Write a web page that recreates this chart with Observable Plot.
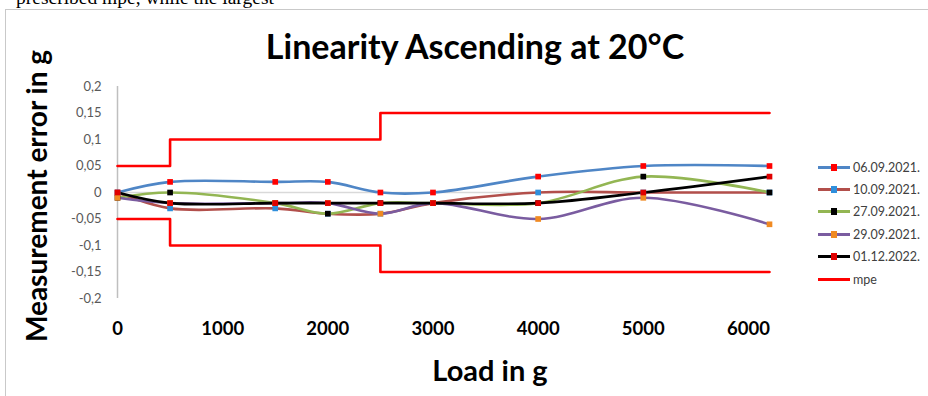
<!DOCTYPE html>
<html><head><meta charset="utf-8">
<script src="https://cdn.jsdelivr.net/npm/d3@7"></script>
<script src="https://cdn.jsdelivr.net/npm/@observablehq/plot@0.6"></script>
<style>
body{margin:0;background:#fff;}
#wrap{position:relative;width:928px;height:396px;overflow:hidden;font-family:Lato,"Open Sans",sans-serif;}
#wrap svg{position:absolute;left:0;top:0;}
.ov{position:absolute;white-space:nowrap;}
#toptext{left:16px;top:-13px;font-family:"Liberation Serif","Times New Roman",serif;font-size:19.5px;color:#000;}
#border{left:5px;top:9px;width:940px;height:400px;border:1.5px solid #c9c9c9;}
#title{left:475px;top:45px;transform:translate(-50%,-50%);font-weight:bold;font-size:34px;color:#000;}
#ytitle{left:36px;top:196px;transform:translate(-50%,-50%) rotate(-90deg);font-weight:bold;font-size:28px;color:#000;}
#xtitle{left:490px;top:369px;transform:translate(-50%,-50%);font-weight:bold;font-size:29px;color:#000;}
#legend{left:818px;top:156px;font-size:12.5px;color:#404040;}
.li{display:flex;align-items:center;height:22.4px;}
.sw{position:relative;width:32px;height:3px;margin-right:3px;}
.mk{position:absolute;left:13px;top:-2px;width:6px;height:7px;}
</style></head>
<body>
<div id="wrap">
  <div class="ov" id="toptext">prescribed mpe, while the largest</div>
  <div class="ov" id="border"></div>
  <div class="ov" id="title">Linearity Ascending at 20°C</div>
  <div class="ov" id="ytitle">Measurement error in g</div>
  <div class="ov" id="xtitle">Load in g</div>
  <div class="ov" id="legend"></div>
</div>
<script>
const loads = [0, 500, 1500, 2000, 2500, 3000, 4000, 5000, 6200];
const seriesNames = ["06.09.2021.", "10.09.2021.", "27.09.2021.", "29.09.2021.", "01.12.2022."];
const s0609 = [0, 0.02, 0.02, 0.02, 0, 0, 0.03, 0.05, 0.05];
const s1009 = [0, -0.03, -0.03, -0.04, -0.04, -0.02, 0, 0, 0];
const s2709 = [-0.01, 0, -0.02, -0.04, -0.02, -0.02, -0.02, 0.03, 0];
const s2909 = [-0.01, -0.02, -0.02, -0.02, -0.04, -0.02, -0.05, -0.01, -0.06];
const s0112 = [0, -0.02, -0.02, -0.02, -0.02, -0.02, -0.02, 0, 0.03];
const mpeLoads = [0, 500, 2500, 6200];
const mpeUpper = [0.05, 0.1, 0.15, 0.15];
const mpeLower = [-0.05, -0.1, -0.15, -0.15];
const yTicks = [-0.2, -0.15, -0.1, -0.05, 0, 0.05, 0.1, 0.15, 0.2];
const xTicks = [0, 1000, 2000, 3000, 4000, 5000, 6000];

const lineColors = ["#4f86c6", "#b24f4b", "#93b653", "#7a5ca0", "#000000"];
const markColors = ["#ff0000", "#2f8fdc", "#000000", "#f08a22", "#e00000"];
const allSeries = [s0609, s1009, s2709, s2909, s0112];

const data = [];
allSeries.forEach((vals, i) => vals.forEach((v, j) => data.push({series: seriesNames[i], load: loads[j], err: v, idx: i})));
const mpeData = [];
mpeLoads.forEach((l, j) => { mpeData.push({b: "u", load: l, err: mpeUpper[j]}); mpeData.push({b: "l", load: l, err: mpeLower[j]}); });

const fmt = d => d === 0 ? "0" : String(d).replace(".", ",");

const chart = Plot.plot({
  width: 928, height: 396,
  marginLeft: 117, marginRight: 159, marginTop: 86, marginBottom: 98,
  style: {background: "transparent", overflow: "visible"},
  x: {domain: [0, 6200]},
  y: {domain: [-0.2, 0.2]},
  marks: [
    Plot.ruleY([0], {stroke: "#d9d9d9", strokeWidth: 1.5}),
    Plot.ruleX([0], {stroke: "#bfbfbf", strokeWidth: 1.5}),
    Plot.line(mpeData, {x: "load", y: "err", z: "b", curve: "step-after", stroke: "#ff0000", strokeWidth: 2.6}),
    ...allSeries.map((vals, i) => Plot.line(data.filter(d => d.idx === i), {x: "load", y: "err", curve: "catmull-rom", stroke: lineColors[i], strokeWidth: 2.6})),
    ...allSeries.map((vals, i) => Plot.dot(data.filter(d => d.idx === i), {x: "load", y: "err", symbol: "square", r: 3.2, fill: markColors[i], stroke: "none"})),
    Plot.axisY(yTicks, {tickSize: 0, tickPadding: 16, tickFormat: fmt, fontSize: 13, fill: "#595959", label: null, fontFamily: "Lato"}),
    Plot.axisX(xTicks, {tickSize: 0, tickPadding: 23, tickFormat: d => String(d), fontSize: 18.5, fontWeight: "bold", fill: "#000", label: null, fontFamily: "Lato"})
  ]
});
const wrap = document.getElementById("wrap");
wrap.insertBefore(chart, document.getElementById("title"));

const leg = document.getElementById("legend");
seriesNames.forEach((n, i) => {
  const d = document.createElement("div"); d.className = "li";
  d.innerHTML = `<div class="sw" style="background:${lineColors[i]}"><div class="mk" style="background:${markColors[i]}"></div></div><span>${n}</span>`;
  leg.appendChild(d);
});
const dm = document.createElement("div"); dm.className = "li";
dm.innerHTML = `<div class="sw" style="background:#ff0000"></div><span>mpe</span>`;
leg.appendChild(dm);
</script>
</body></html>
